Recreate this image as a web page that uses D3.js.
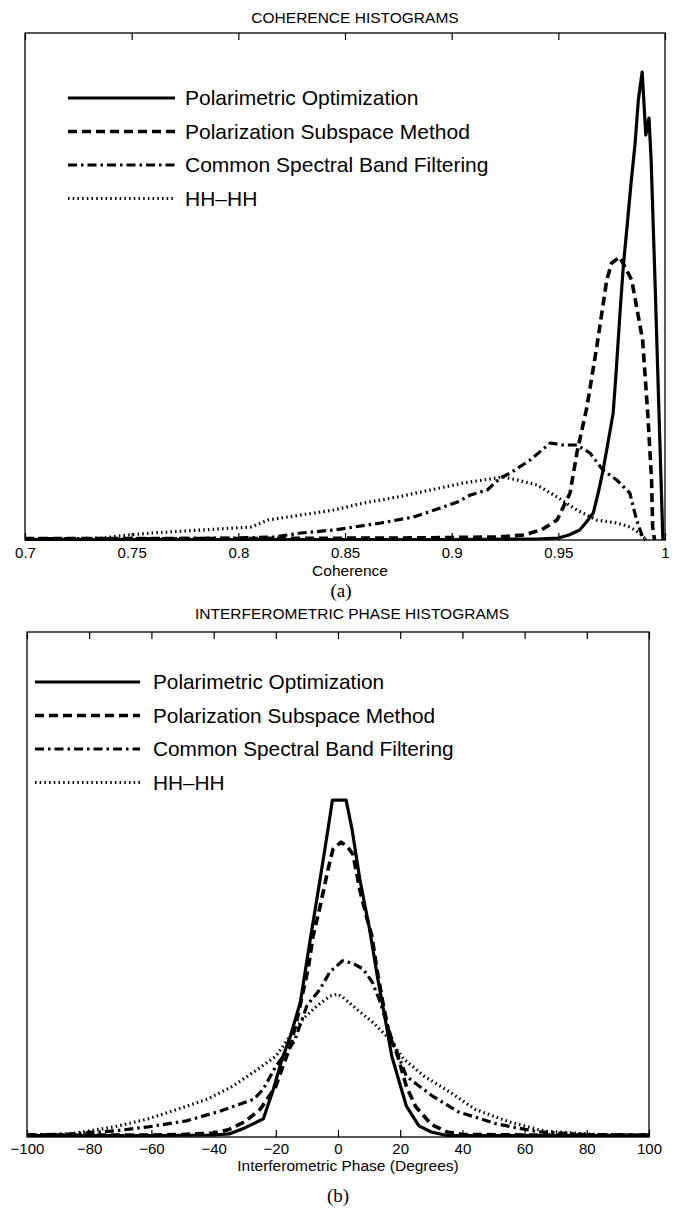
<!DOCTYPE html>
<html><head><meta charset="utf-8">
<script src="https://cdn.jsdelivr.net/npm/d3@7"></script>
<style>body{margin:0;background:#fff}svg{display:block}</style>
</head><body>
<script>
// ---------- DATA ----------
const seriesNames = ["Polarimetric Optimization","Polarization Subspace Method","Common Spectral Band Filtering","HH\u2013HH"];

const cohTicks = [0.7,0.75,0.8,0.85,0.9,0.95,1];
const cohTickLabels = ["0.7","0.75","0.8","0.85","0.9","0.95","1"];
const phTicks = [-100,-80,-60,-40,-20,0,20,40,60,80,100];
const phTickLabels = ["\u2212100","\u221280","\u221260","\u221240","\u221220","0","20","40","60","80","100"];

const cohPolOpt = [[0.70,0.001],[0.90,0.001],[0.94,0.002],[0.95,0.004],[0.955,0.01],[0.96,0.02],[0.963,0.035],[0.9664,0.054],[0.969,0.10],[0.971,0.14],[0.9735,0.20],[0.9757,0.254],[0.977,0.33],[0.979,0.46],[0.9805,0.55],[0.9822,0.626],[0.984,0.71],[0.986,0.794],[0.9875,0.88],[0.9893,0.936],[0.9910,0.81],[0.9925,0.844],[0.9935,0.76],[0.9953,0.52],[0.997,0.28],[0.999,0.0]];
const cohSubspace = [[0.70,0.003],[0.80,0.003],[0.8775,0.004],[0.9213,0.006],[0.9335,0.01],[0.942,0.02],[0.9494,0.04],[0.9555,0.094],[0.9587,0.174],[0.9634,0.266],[0.968,0.386],[0.9727,0.52],[0.975,0.554],[0.9788,0.566],[0.9844,0.52],[0.9895,0.40],[0.9919,0.254],[0.9937,0.12],[0.9942,0.026],[0.9951,0.0]];
const cohSpectral = [[0.70,0.003],[0.77,0.003],[0.798,0.004],[0.8168,0.006],[0.8294,0.014],[0.8448,0.02],[0.8513,0.024],[0.8667,0.034],[0.8821,0.046],[0.8948,0.064],[0.9027,0.076],[0.9088,0.09],[0.9167,0.10],[0.9228,0.124],[0.9275,0.134],[0.9368,0.16],[0.9462,0.194],[0.952,0.19],[0.9587,0.19],[0.9648,0.174],[0.9709,0.14],[0.9774,0.12],[0.9835,0.094],[0.9867,0.04],[0.9895,0.006],[0.991,0.0]];
const cohHH = [[0.70,0.002],[0.72,0.002],[0.736,0.004],[0.7486,0.01],[0.7593,0.014],[0.7827,0.02],[0.806,0.026],[0.814,0.04],[0.8294,0.05],[0.8448,0.06],[0.8588,0.074],[0.8747,0.086],[0.89,0.10],[0.9055,0.114],[0.9148,0.12],[0.9242,0.126],[0.9307,0.12],[0.94,0.11],[0.9494,0.086],[0.9587,0.06],[0.968,0.04],[0.9774,0.034],[0.9835,0.026],[0.9881,0.014],[0.9914,0.0]];

const phPolOpt = [[-100,0.003],[-60,0.003],[-40,0.004],[-35,0.006],[-30,0.018],[-24,0.036],[-21,0.09],[-18,0.154],[-15.3,0.20],[-12.1,0.267],[-8.9,0.392],[-5.75,0.511],[-3.2,0.61],[-1.8,0.667],[2.6,0.667],[4.5,0.61],[7,0.511],[10.2,0.41],[12.8,0.313],[15,0.24],[17.3,0.16],[22,0.061],[26,0.022],[30,0.01],[35,0.003],[60,0.003],[100,0.003]];
const phSubspace = [[-100,0.004],[-60,0.004],[-50,0.005],[-40,0.008],[-35,0.015],[-30,0.03],[-25,0.055],[-20,0.10],[-18,0.135],[-15.3,0.18],[-13.1,0.234],[-11.5,0.28],[-9.6,0.333],[-8,0.398],[-5.75,0.457],[-3.2,0.53],[-1.6,0.57],[1,0.584],[3,0.575],[4.8,0.56],[7,0.49],[9,0.44],[10.9,0.398],[12.5,0.333],[14.4,0.267],[16.6,0.2],[19.2,0.16],[22,0.10],[25,0.06],[30,0.025],[35,0.01],[40,0.005],[60,0.004],[100,0.004]];
const phSpectral = [[-100,0.004],[-86,0.006],[-72,0.012],[-61,0.02],[-48.7,0.032],[-38,0.051],[-27,0.075],[-24,0.095],[-20,0.14],[-14,0.19],[-10,0.26],[-5.75,0.293],[-2.6,0.327],[1.5,0.349],[5,0.343],[8,0.333],[11,0.307],[13.4,0.27],[17,0.2],[22,0.12],[30.4,0.081],[38.6,0.05],[51,0.026],[64.5,0.01],[80,0.005],[100,0.004]];
const phHH = [[-100,0.003],[-86,0.006],[-72,0.02],[-61,0.036],[-51.6,0.055],[-42,0.075],[-34,0.10],[-27,0.129],[-20,0.16],[-14.4,0.208],[-11.2,0.234],[-6.7,0.26],[-2.6,0.279],[0,0.283],[1.5,0.277],[7,0.248],[11,0.228],[15.6,0.2],[21.2,0.154],[27.8,0.12],[36,0.089],[44,0.055],[55,0.03],[66,0.012],[85,0.004],[100,0.003]];

// ---------- STYLES ----------
const styles = [
  {w:3.2, dash:null},
  {w:3.6, dash:"9,5"},
  {w:3.2, dash:"9,4,2.5,4"},
  {w:3.2, dash:"1.5,3.2"}
];

const W = 677, H = 1209;
const FONT = "'Liberation Sans', Arial, Helvetica, sans-serif";
const svg = d3.select("body").append("svg").attr("width",W).attr("height",H)
  .style("font-family",FONT);
svg.append("rect").attr("width",W).attr("height",H).attr("fill","#fff");

function panel(cfg){
  const g = svg.append("g");
  const x = d3.scaleLinear().domain(cfg.xDomain).range([cfg.left,cfg.right]);
  const y = d3.scaleLinear().domain([0,cfg.yMax]).range([cfg.bottom,cfg.top]);
  g.append("text").attr("x",cfg.titleX).attr("y",cfg.titleY)
    .attr("text-anchor","middle").attr("font-size",15.5).text(cfg.title);
  const line = d3.line().x(d=>x(d[0])).y(d=>y(d[1]));
  cfg.series.forEach((s,i)=>{
    g.append("path").attr("d",line(s)).attr("fill","none").attr("stroke","#000")
      .attr("stroke-width",styles[i].w).attr("stroke-dasharray",styles[i].dash)
      .attr("stroke-linejoin","round");
  });
  g.append("rect").attr("x",cfg.left).attr("y",cfg.top)
    .attr("width",cfg.right-cfg.left).attr("height",cfg.bottom-cfg.top)
    .attr("fill","none").attr("stroke","#000").attr("stroke-width",1.3);
  const ab = d3.axisBottom(x).tickValues(cfg.ticks).tickSize(-7).tickPadding(cfg.tickPad)
    .tickFormat((d,i)=>cfg.tickLabels[i]);
  const gb = g.append("g").attr("transform",`translate(0,${cfg.bottom})`).call(ab);
  gb.select(".domain").remove();
  gb.selectAll("text").attr("font-size",15).attr("font-family",FONT).attr("fill","#000");
  gb.selectAll("line").attr("stroke","#000").attr("stroke-width",1.2);
  const at = d3.axisTop(x).tickValues(cfg.ticks).tickSize(-7).tickFormat("");
  const gt = g.append("g").attr("transform",`translate(0,${cfg.top})`).call(at);
  gt.select(".domain").remove();
  gt.selectAll("line").attr("stroke","#000").attr("stroke-width",1.2);
  g.append("text").attr("x",cfg.xLabelX).attr("y",cfg.xLabelY)
    .attr("text-anchor","middle").attr("font-size",15.5).text(cfg.xLabel);
  g.append("text").attr("x",cfg.capX).attr("y",cfg.capY)
    .attr("text-anchor","middle").attr("font-size",19)
    .attr("font-family","'Liberation Serif', 'Times New Roman', serif").text(cfg.caption);
  seriesNames.forEach((name,i)=>{
    const ly = cfg.legY + i*cfg.legStep;
    g.append("line").attr("x1",cfg.legX1).attr("x2",cfg.legX2).attr("y1",ly).attr("y2",ly)
      .attr("stroke","#000").attr("stroke-width",styles[i].w).attr("stroke-dasharray",styles[i].dash);
    g.append("text").attr("x",cfg.legTX).attr("y",ly).attr("dy","0.35em")
      .attr("font-size",cfg.legFont).text(name);
  });
}

panel({
  title:"COHERENCE HISTOGRAMS", titleX:355, titleY:23,
  xDomain:[0.7,1], left:25, right:665, top:33, bottom:540, yMax:1.014,
  ticks:cohTicks, tickLabels:cohTickLabels, tickPad:7,
  series:[cohPolOpt,cohSubspace,cohSpectral,cohHH],
  xLabelX:350, xLabel:"Coherence", xLabelY:576, capX:341, caption:"(a)", capY:597,
  legY:98, legStep:33.5, legX1:68, legX2:175, legTX:185, legFont:21
});

panel({
  title:"INTERFEROMETRIC PHASE HISTOGRAMS", titleX:352, titleY:619,
  xDomain:[-100,100], left:27, right:649, top:632, bottom:1137, yMax:1,
  ticks:phTicks, tickLabels:phTickLabels, tickPad:6,
  series:[phPolOpt,phSubspace,phSpectral,phHH],
  xLabelX:348, xLabel:"Interferometric Phase (Degrees)", xLabelY:1171, capX:338, caption:"(b)", capY:1202,
  legY:682, legStep:33.5, legX1:35, legX2:140, legTX:153, legFont:20.8
});
</script>
</body></html>
